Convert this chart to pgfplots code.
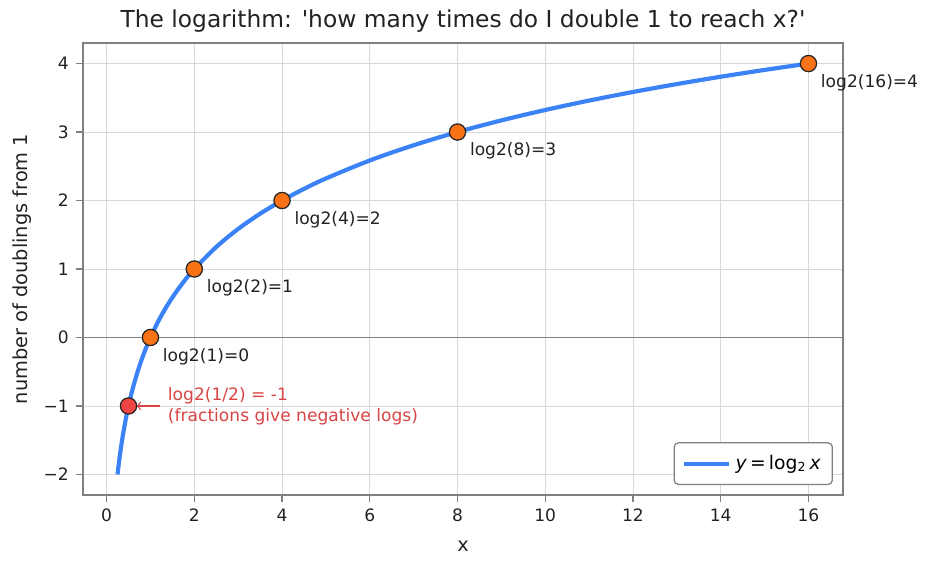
\documentclass[border=0pt]{standalone}
\usepackage{fontspec}
\setmainfont{DejaVu Sans}
\usepackage{pgfplots}
\pgfplotsset{compat=1.18}
\definecolor{cblue}{HTML}{3B82F6}
\definecolor{corange}{HTML}{F97316}
\definecolor{cred}{HTML}{EF4444}
\definecolor{ctext}{HTML}{D94444}
\definecolor{cgrid}{HTML}{D5D9DE}
\definecolor{cspine}{HTML}{808080}
\definecolor{cdark}{HTML}{222222}
\begin{document}
\begin{tikzpicture}
\useasboundingbox (-39.84pt,-35.52pt) rectangle (408pt,237.6pt);
\begin{axis}[
  at={(0,0)}, anchor=south west,
  scale only axis, width=364.8pt, height=216.96pt,
  xmin=-0.5375, xmax=16.7875, ymin=-2.3, ymax=4.3,
  xtick={0,2,...,16}, ytick={-2,-1,0,1,2,3,4},
  yticklabels={−2,−1,0,1,2,3,4},
  /pgf/number format/assume math mode=true,
  tick label style={font=\fontsize{8.2}{10}\selectfont, text=cdark},
  xtick pos=bottom, ytick pos=left,
  tick align=outside, major tick length=3.3pt,
  every tick/.style={cspine, line width=0.6pt},
  axis line style={cspine, line width=0.7pt},
  grid=major, major grid style={cgrid, line width=0.4pt},
  xlabel={x}, ylabel={number of doublings from 1},
  label style={font=\fontsize{9.3}{11}\selectfont, text=cdark},
  xlabel style={at={(axis description cs:0.5,-0.113)}, anchor=center},
  ylabel style={at={(axis description cs:-0.0803,0.5)}, anchor=center},
  title={The logarithm: \textquotesingle how many times do I double 1 to reach x?\textquotesingle},
  title style={font=\fontsize{11.2}{13}\selectfont, text=cdark, at={(axis description cs:0.5,1)}, anchor=base, yshift=1.4pt},
  clip=false,
  legend style={at={(axis description cs:0.9868,0.0221)}, anchor=south east,
    draw=cspine, rounded corners=2pt, line width=0.6pt, font=\fontsize{9}{11}\selectfont,
    inner xsep=3.5pt, inner ysep=3.8pt},
  legend image code/.code={\draw[#1] (0pt,0pt) -- (22pt,0pt);},
]
\addplot[cspine, line width=0.7pt, forget plot] coordinates {(-0.5375,0) (16.7875,0)};
\addplot[cblue, line width=2pt, smooth] coordinates {
(0.25,-2) (0.275,-1.8625) (0.3,-1.7370) (0.325,-1.6215) (0.35,-1.5146)
(0.4,-1.3219) (0.45,-1.1520) (0.5,-1) (0.55,-0.8625) (0.6,-0.7370)
(0.7,-0.5146) (0.8,-0.3219) (0.9,-0.1520) (1,0) (1.2,0.2630) (1.4,0.4854)
(1.6,0.6781) (1.8,0.8480) (2,1) (2.5,1.3219) (3,1.5850) (3.5,1.8074)
(4,2) (4.5,2.1699) (5,2.3219) (6,2.5850) (7,2.8074) (8,3) (9,3.1699)
(10,3.3219) (11,3.4594) (12,3.5850) (13,3.7004) (14,3.8074) (15,3.9069) (16,4)};
\addlegendentry{\textit{y}\,=\,log\textsubscript{2}\,\textit{x}}
\addplot[only marks, mark=*, mark size=3.9pt, mark options={fill=corange, draw=black!85, line width=0.6pt}, forget plot]
  coordinates {(1,0) (2,1) (4,2) (8,3) (16,4)};
\addplot[only marks, mark=*, mark size=3.9pt, mark options={fill=cred, draw=black!85, line width=0.6pt}, forget plot]
  coordinates {(0.5,-1)};
\begin{scope}[every node/.style={anchor=north west, inner sep=0pt, xshift=5.8pt, yshift=-5pt, font=\fontsize{8.2}{10}\selectfont, text=cdark}]
\node at (axis cs:1,0) {log2(1)=0};
\node at (axis cs:2,1) {log2(2)=1};
\node at (axis cs:4,2) {log2(4)=2};
\node at (axis cs:8,3) {log2(8)=3};
\node at (axis cs:16,4) {log2(16)=4};
\end{scope}
\draw[->, ctext, line width=0.6pt] (axis cs:1.21,-1) -- (axis cs:0.68,-1);
\node[anchor=west, align=left, inner sep=0pt, text=ctext, font=\fontsize{8.2}{10.1}\selectfont] at (axis cs:1.39,-1) {log2(1/2) = -1\\(fractions give negative logs)};
\end{axis}
\end{tikzpicture}
\end{document}
